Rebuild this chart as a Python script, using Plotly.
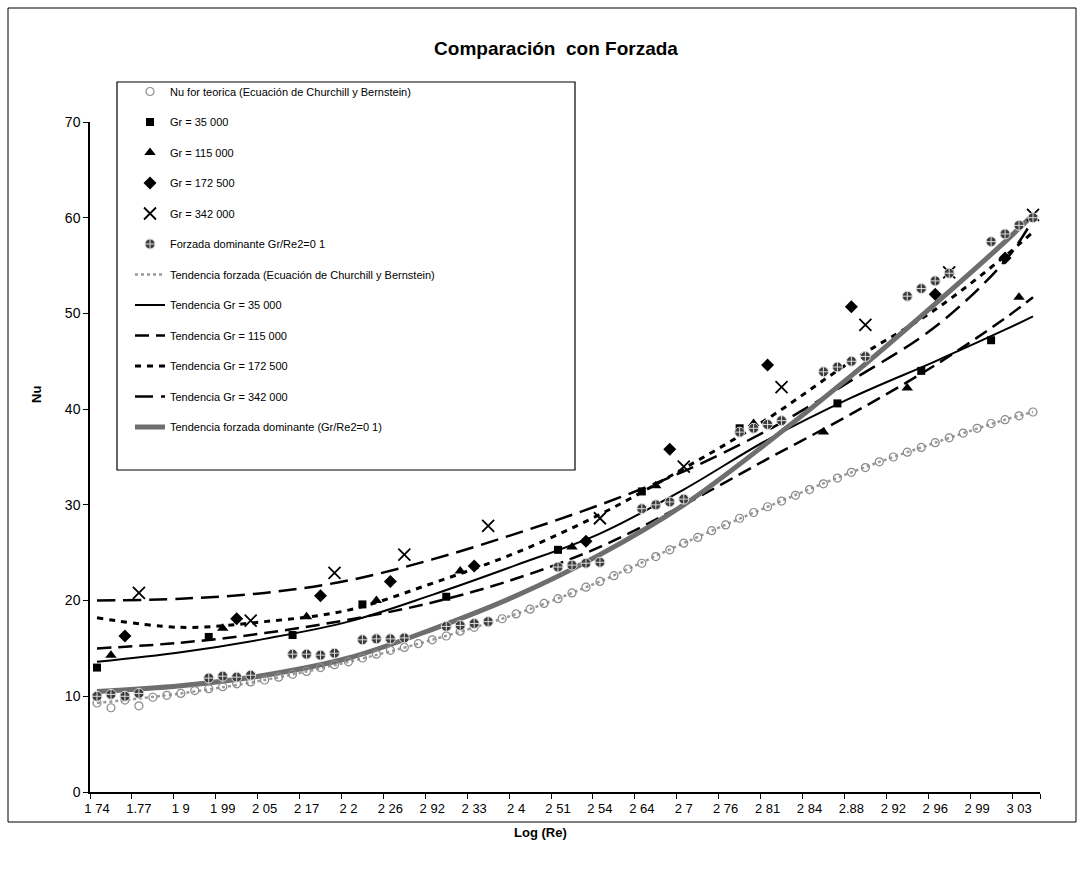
import plotly.graph_objects as go

# ---- Category axis: Log(Re), one category per experiment (68), labelled every third ----
n_cat = 68
label_cat = [0, 3, 6, 9, 12, 15, 18, 21, 24, 27, 30, 33, 36, 39, 42, 45, 48, 51, 54, 57, 60, 63, 66]
label_txt = ["1 74", "1.77", "1 9", "1 99", "2 05", "2 17", "2 2", "2 26", "2 92", "2 33", "2 4",
             "2 51", "2 54", "2 64", "2 7", "2 76", "2 81", "2 84", "2.88", "2 92", "2 96", "2 99", "3 03"]

# ---- Theoretical Nu (Churchill & Bernstein), one value per experiment ----
teorica_nu = [9.3, 8.8, 9.6, 9.0, 9.9, 10.1,
              10.3, 10.6, 10.8, 11.0, 11.3, 11.5,
              11.7, 12.0, 12.3, 12.6, 13.0, 13.3,
              13.6, 14.0, 14.4, 14.8, 15.1, 15.5,
              15.9, 16.3, 16.8, 17.2, 17.7, 18.1,
              18.6, 19.1, 19.7, 20.2, 20.8, 21.4,
              22.0, 22.6, 23.3, 23.9, 24.6, 25.3,
              26.0, 26.6, 27.3, 27.9, 28.6, 29.2,
              29.8, 30.4, 31.0, 31.6, 32.2, 32.8,
              33.4, 33.9, 34.5, 35.0, 35.5, 36.0,
              36.5, 37.0, 37.5, 38.0, 38.5, 38.9,
              39.3, 39.7]

# ---- Experimental series ----
gr35_cat = [0, 8, 14, 19, 25, 33, 39, 46, 53, 59, 64]
gr35_nu = [13.0, 16.2, 16.4, 19.6, 20.4, 25.3, 31.4, 38.0, 40.6, 44.0, 47.2]

gr115_cat = [1, 9, 15, 20, 26, 34, 40, 47, 52, 58, 66]
gr115_nu = [14.3, 17.1, 18.3, 20.0, 23.1, 25.6, 32.0, 38.5, 37.6, 42.2, 51.7]

gr172_cat = [2, 10, 16, 21, 27, 35, 41, 48, 54, 60, 65]
gr172_nu = [16.3, 18.1, 20.5, 22.0, 23.6, 26.2, 35.8, 44.6, 50.7, 52.0, 55.8]

gr342_cat = [3, 11, 17, 22, 28, 36, 42, 49, 55, 61, 67]
gr342_nu = [20.8, 17.9, 22.9, 24.8, 27.8, 28.6, 34.0, 42.3, 48.8, 54.3, 60.3]

dom_cat = [0, 1, 2, 3, 8, 9, 10, 11, 14, 15, 16, 17, 19, 20, 21, 22, 25, 26, 27, 28,
           33, 34, 35, 36, 39, 40, 41, 42, 46, 47, 48, 49, 52, 53, 54, 55, 58, 59, 60, 61,
           64, 65, 66, 67]
dom_nu = [10.0, 10.2, 10.0, 10.3, 11.9, 12.1, 12.0, 12.2, 14.4, 14.4, 14.3, 14.5,
          15.9, 16.0, 16.0, 16.1, 17.3, 17.4, 17.6, 17.8, 23.5, 23.7, 23.9, 24.0,
          29.6, 30.0, 30.3, 30.6, 37.6, 38.0, 38.4, 38.8, 43.9, 44.4, 45.0, 45.5,
          51.8, 52.6, 53.4, 54.2, 57.5, 58.3, 59.2, 60.0]

# ---- Trend lines, sampled along the category axis ----
trend_cat = [0, 6, 12, 18, 24, 30, 36, 42, 48, 54, 60, 65, 67]
trend_teorica = [9.3, 10.3, 11.7, 13.6, 15.9, 18.6, 22.0, 26.0, 29.8, 33.4, 36.5, 38.9, 39.7]
trend_gr35 = [13.6, 14.6, 16.0, 17.8, 20.6, 23.7, 27.0, 31.6, 36.8, 41.2, 45.0, 48.3, 49.7]
trend_gr115 = [15.0, 15.6, 16.6, 18.0, 19.8, 22.3, 25.6, 30.0, 34.8, 39.5, 44.6, 49.5, 51.7]
trend_gr172 = [18.2, 17.2, 17.8, 19.0, 21.8, 25.0, 29.0, 33.8, 39.0, 45.0, 50.4, 56.0, 58.5]
trend_gr342 = [20.0, 20.2, 20.8, 22.1, 24.3, 27.0, 30.0, 33.5, 37.8, 43.0, 48.6, 55.5, 59.8]
trend_dom = [10.5, 11.1, 12.2, 14.0, 17.0, 20.5, 24.8, 30.0, 36.5, 43.5, 51.0, 57.5, 60.3]

FONT = "Liberation Sans, Arial, sans-serif"

fig = go.Figure()

# trend lines (drawn underneath the markers)
lines = [
    ("Tendencia forzada (Ecuación de Churchill y Bernstein)", trend_teorica,
     dict(color="#9a9a9a", width=2.5, dash="dot"), 7),
    ("Tendencia Gr = 35 000", trend_gr35, dict(color="black", width=2), 8),
    ("Tendencia Gr = 115 000", trend_gr115, dict(color="black", width=2.5, dash="14px,7px"), 9),
    ("Tendencia Gr = 172 500", trend_gr172, dict(color="black", width=3, dash="6px,6px"), 10),
    ("Tendencia Gr = 342 000", trend_gr342, dict(color="black", width=2.5, dash="18px,8px"), 11),
    ("Tendencia forzada dominante (Gr/Re2=0 1)", trend_dom, dict(color="#6e6e6e", width=5), 12),
]
for name, vals, style, rank in lines:
    fig.add_trace(go.Scatter(x=trend_cat, y=vals, mode="lines", name=name,
                             line=dict(shape="spline", smoothing=1.0, **style),
                             legendrank=rank, legendgroup=name))

markers = [
    ("Nu for teorica (Ecuación de Churchill y Bernstein)", list(range(n_cat)), teorica_nu,
     dict(symbol="circle-open", size=8, color="#8a8a8a", line=dict(width=1.2)), 1),
    ("Gr = 35 000", gr35_cat, gr35_nu,
     dict(symbol="square", size=8, color="black"), 2),
    ("Gr = 115 000", gr115_cat, gr115_nu,
     dict(symbol="triangle-up", size=10, color="black"), 3),
    ("Gr = 172 500", gr172_cat, gr172_nu,
     dict(symbol="diamond", size=10, color="black"), 4),
    ("Gr = 342 000", gr342_cat, gr342_nu,
     dict(symbol="x-thin-open", size=12, color="black", line=dict(width=1.8, color="black")), 5),
    ("Forzada dominante Gr/Re2=0 1", dom_cat, dom_nu,
     dict(symbol="circle-cross", size=10, color="#3c3c3c", line=dict(width=1, color="#dddddd")), 6),
]
for name, xs, ys, mk, rank in markers:
    fig.add_trace(go.Scatter(x=xs, y=ys, mode="markers", name=name, marker=mk,
                             legendrank=rank, legendgroup=name))

# pixel helpers for layout placement (plot area 90..1040 x 122..792)
def px_x(p):
    return (p - 90) / 950.0

def px_y(p):
    return (792 - p) / 670.0

fig.update_layout(
    width=1082, height=874,
    margin=dict(l=90, r=42, t=122, b=82),
    paper_bgcolor="white", plot_bgcolor="white",
    font=dict(family=FONT, color="black"),
    title=dict(text="<b>Comparación  con Forzada</b>", x=556 / 1082, xanchor="center",
               y=1 - 48 / 874, yanchor="middle", font=dict(size=19, family=FONT)),
    showlegend=True,
    legend=dict(x=px_x(130), y=px_y(77), xanchor="left", yanchor="top",
                bgcolor="rgba(0,0,0,0)", borderwidth=0, tracegroupgap=11.5,
                font=dict(size=11, family=FONT), itemwidth=30),
    xaxis=dict(range=[-0.5, n_cat - 0.5], tickmode="array", tickvals=label_cat, ticktext=label_txt,
               ticks="", showline=True, linecolor="black", linewidth=1.5, mirror=False,
               showgrid=False, zeroline=False, tickfont=dict(size=13), ticklabelstandoff=4,
               minor=dict(tickmode="array",
                          tickvals=[c - 0.5 for c in label_cat] + [n_cat - 0.5],
                          ticks="outside", ticklen=5, tickcolor="black", tickwidth=1,
                          showgrid=False)),
    yaxis=dict(range=[0, 70], tickmode="array", tickvals=[0, 10, 20, 30, 40, 50, 60, 70],
               ticks="outside", ticklen=5, tickcolor="black", showline=True, linecolor="black",
               linewidth=1.5, showgrid=False, zeroline=False, tickfont=dict(size=14)),
    annotations=[
        dict(text="<b>Nu</b>", x=px_x(36), y=px_y(395), xref="paper", yref="paper",
             xanchor="center", yanchor="middle",
             textangle=-90, showarrow=False, font=dict(size=13)),
        dict(text="<b>Log (Re)</b>", x=px_x(540), y=px_y(832), xref="paper", yref="paper",
             xanchor="center", yanchor="middle",
             showarrow=False, font=dict(size=13)),
    ],
    shapes=[
        # chart area border
        dict(type="rect", xref="paper", yref="paper", x0=px_x(8), x1=px_x(1076),
             y0=px_y(822), y1=px_y(8), line=dict(color="black", width=1)),
        # legend frame
        dict(type="rect", xref="paper", yref="paper", x0=px_x(117), x1=px_x(575),
             y0=px_y(470), y1=px_y(82), line=dict(color="black", width=1.2),
             layer="above"),
    ],
)

fig.write_html("out.html")
